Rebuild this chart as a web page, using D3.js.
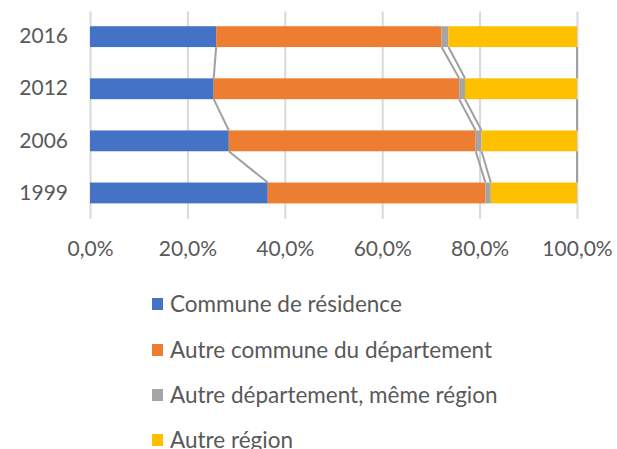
<!DOCTYPE html>
<html lang="fr">
<head>
  <meta charset="UTF-8">
  <title>Lieu de travail</title>
  <script src="https://cdn.jsdelivr.net/npm/d3@7"></script>
  <style>
    body { margin: 0; padding: 0; background: #fff; }
    svg text { font-family: Lato, "Open Sans", sans-serif; fill: #595959; }
  </style>
</head>
<body>
<div id="chart"></div>
<script>
// data
var years = ["2016", "2012", "2006", "1999"];
var seriesNames = ["Commune de résidence", "Autre commune du département",
                   "Autre département, même région", "Autre région"];
var communeResidence = [0.259, 0.254, 0.285, 0.365];
var autreCommune     = [0.463, 0.504, 0.507, 0.447];
var autreDepartement = [0.014, 0.012, 0.012, 0.011];
var autreRegion      = [0.264, 0.230, 0.196, 0.177];
var xTicks = [0, 0.2, 0.4, 0.6, 0.8, 1];
var colors = ["#4472C4", "#ED7D31", "#A5A5A5", "#FFC000"];

var w = 617, h = 449;
var svg = d3.select("#chart").append("svg")
            .attr("width", w)
            .attr("height", h);

var x = d3.scaleLinear().domain([0, 1]).range([90, 577]);
var y = d3.scaleBand().domain(years).range([10.6, 219])
          .paddingInner(0.6).paddingOuter(0.3);

var fr = d3.formatLocale({decimal: ",", thousands: " ", grouping: [3], currency: ["", " €"]});

// rows for the stack
var rows = years.map(function(yr, i) {
  return {year: yr, s0: communeResidence[i], s1: autreCommune[i],
          s2: autreDepartement[i], s3: autreRegion[i]};
});
var keys = ["s0", "s1", "s2", "s3"];
var stacked = d3.stack().keys(keys)(rows);

// grid + x labels
var xAxis = svg.append("g")
    .attr("transform", "translate(0,219)")
    .call(d3.axisBottom(x).tickValues(xTicks).tickSize(-207.5)
            .tickPadding(22).tickFormat(fr.format(".1%")));
xAxis.select(".domain").remove();
xAxis.selectAll("line").attr("stroke", "#D9D9D9").attr("stroke-width", 2);
xAxis.selectAll("text").attr("font-size", 21).attr("font-family", null);

// bars
svg.append("g").selectAll("g")
   .data(stacked)
   .join("g")
   .attr("fill", function(d, i) { return colors[i]; })
   .selectAll("rect")
   .data(function(d) { return d; })
   .join("rect")
   .attr("x", function(d) { return x(d[0]); })
   .attr("y", function(d) { return y(d.data.year); })
   .attr("width", function(d) { return x(d[1]) - x(d[0]); })
   .attr("height", y.bandwidth());

// series lines between neighbouring bars
var links = [];
stacked.forEach(function(layer) {
  for (var i = 0; i < years.length - 1; i++) {
    links.push({a: layer[i][1], b: layer[i + 1][1], ya: years[i], yb: years[i + 1]});
  }
});
svg.append("g").selectAll("line")
   .data(links)
   .join("line")
   .attr("x1", function(d) { return x(d.a); })
   .attr("y1", function(d) { return y(d.ya) + y.bandwidth(); })
   .attr("x2", function(d) { return x(d.b); })
   .attr("y2", function(d) { return y(d.yb); })
   .attr("stroke", "#A0A0A0")
   .attr("stroke-width", 2);

// y labels
var yAxis = svg.append("g")
    .attr("transform", "translate(90,0)")
    .call(d3.axisLeft(y).tickSize(0).tickPadding(22));
yAxis.select(".domain").remove();
yAxis.selectAll("text").attr("font-size", 21).attr("font-family", null);

// legend
var legendY = [304, 350, 395, 440];
var legend = svg.append("g").selectAll("g")
   .data(seriesNames)
   .join("g")
   .attr("transform", function(d, i) { return "translate(152," + legendY[i] + ")"; });
legend.append("rect")
   .attr("x", 0).attr("y", -6)
   .attr("width", 11).attr("height", 12)
   .attr("fill", function(d, i) { return colors[i]; });
legend.append("text")
   .attr("x", 18).attr("y", 7.5)
   .attr("font-size", 22.5)
   .text(function(d) { return d; });
</script>
</body>
</html>
